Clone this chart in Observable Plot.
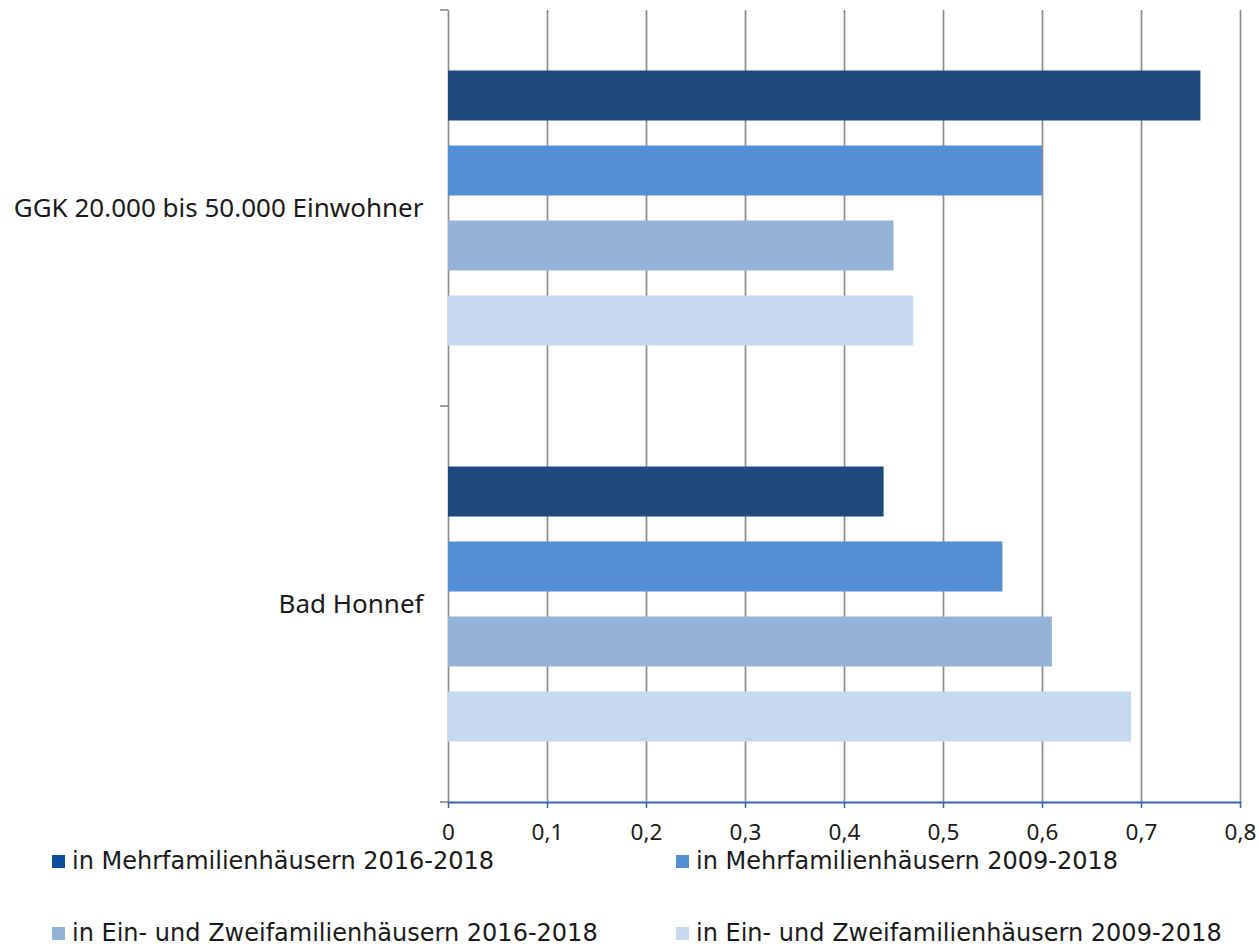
<!DOCTYPE html>
<html>
<head>
<meta charset="utf-8">
<script src="https://cdn.jsdelivr.net/npm/d3@7"></script>
<script src="https://cdn.jsdelivr.net/npm/@observablehq/plot@0.6"></script>
<style>
  html, body { margin: 0; padding: 0; background: #fff; }
  #wrap { position: relative; width: 1259px; height: 946px; font-family: "Noto Sans", sans-serif; color: #1a1a1a; }
  #legend { position: absolute; left: 52px; top: 851px; display: grid; grid-template-columns: 624px auto; row-gap: 52px; font-family: "DejaVu Sans", sans-serif; font-size: 24px; line-height: 20px; }
  .item { display: flex; align-items: center; white-space: nowrap; height: 20px; }
  .sw { width: 13px; height: 13px; margin-right: 7px; flex: none; }
</style>
</head>
<body>
<div id="wrap">
  <div id="chart"></div>
  <div id="legend"></div>
</div>
<script>
const categories = ["GGK 20.000 bis 50.000 Einwohner", "Bad Honnef"];
const series = [
  "in Mehrfamilienhäusern 2016-2018",
  "in Mehrfamilienhäusern 2009-2018",
  "in Ein- und Zweifamilienhäusern 2016-2018",
  "in Ein- und Zweifamilienhäusern 2009-2018"
];
const ggkValues = [0.76, 0.60, 0.45, 0.47];
const badHonnefValues = [0.44, 0.56, 0.61, 0.69];
const barColors = ["#1f4a7c", "#558ed5", "#95b3d7", "#c6d9f1"];
const legendSwatches = ["#0b4ea0", "#558ed5", "#95b3d7", "#c6d9f1"];
const xTicks = [0, 0.1, 0.2, 0.3, 0.4, 0.5, 0.6, 0.7, 0.8];

const data = [];
series.forEach((s, i) => {
  data.push({category: categories[0], series: s, value: ggkValues[i]});
  data.push({category: categories[1], series: s, value: badHonnefValues[i]});
});

const fmt = d => d === 0 ? "0" : d3.format(".1f")(d).replace(".", ",");
const gridColor = "#8e8e8e";
const axisBlue = "#3366b0";

const plot = Plot.plot({
  width: 1259,
  height: 852,
  marginLeft: 448,
  marginRight: 19,
  marginTop: 10,
  marginBottom: 50,
  style: {fontFamily: "'Noto Sans', sans-serif", color: "#1a1a1a", background: "transparent"},
  fy: {domain: categories, paddingInner: 0, paddingOuter: 0, round: false, label: null},
  y: {domain: series, paddingInner: 1/3, paddingOuter: 0.8067, round: false, axis: null},
  x: {domain: [0, 0.8], label: null},
  color: {domain: series, range: barColors},
  marks: [
    Plot.gridX(xTicks, {stroke: gridColor, strokeOpacity: 1, strokeWidth: 1.7}),
    Plot.barX(data, {x: "value", y: "series", fy: "category", fill: "series"}),
    Plot.frame({anchor: "bottom", facetAnchor: "bottom", stroke: axisBlue, strokeWidth: 2}),
    Plot.axisX({ticks: xTicks, tickFormat: fmt, tickSize: 6, tickPadding: 16, stroke: axisBlue, strokeWidth: 1.5, fill: "#1a1a1a", fontSize: 22.5, label: null}),
    Plot.axisFy({anchor: "left", tickSize: 0, tickPadding: 25, fontSize: 26, fill: "#1a1a1a", label: null})
  ]
});

document.getElementById("chart").appendChild(plot);

// category boundary ticks on the left axis, placed via the library's scales
const fyScale = plot.scale("fy");
const xScale = plot.scale("x");
const x0 = xScale.apply(0);
const bounds = fyScale.domain.map(c => fyScale.apply(c));
bounds.push(fyScale.apply(fyScale.domain[fyScale.domain.length - 1]) + fyScale.bandwidth);
const g = d3.select(plot).append("g").attr("stroke", gridColor).attr("stroke-width", 1.7);
bounds.forEach(b => {
  g.append("line").attr("x1", x0 - 8).attr("x2", x0).attr("y1", b).attr("y2", b);
});

const legend = document.getElementById("legend");
series.forEach((s, i) => {
  const item = document.createElement("div");
  item.className = "item";
  const sw = document.createElement("span");
  sw.className = "sw";
  sw.style.background = legendSwatches[i];
  const t = document.createElement("span");
  t.textContent = s;
  item.appendChild(sw);
  item.appendChild(t);
  legend.appendChild(item);
});
</script>
</body>
</html>
